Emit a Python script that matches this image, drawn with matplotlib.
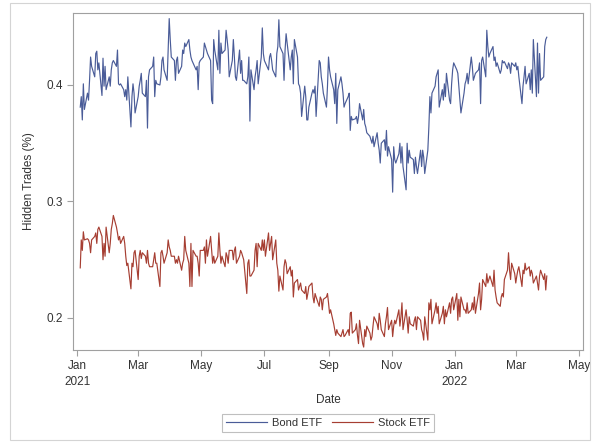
import numpy as np
import pandas as pd
import matplotlib
matplotlib.use("Agg")
import matplotlib.pyplot as plt
import matplotlib.dates as mdates
from matplotlib.patches import Rectangle

plt.rcParams['font.family'] = ['Liberation Sans', 'DejaVu Sans']

# daily share of hidden trades, one row per month (trading days)
bond = [
    0.381, 0.390, 0.370, 0.401, 0.379, 0.393, 0.387, 0.404, 0.424, 0.416, 0.407, 0.427, 0.429, 0.413, 0.419, 0.391, 0.423, 0.399, 0.416, 0.396,
    0.407, 0.399, 0.413, 0.419, 0.421, 0.416, 0.430, 0.401, 0.400, 0.401, 0.396, 0.390, 0.396, 0.387, 0.407, 0.364, 0.390, 0.401, 0.393, 0.376,
    0.390, 0.399, 0.404, 0.410, 0.393, 0.390, 0.404, 0.363, 0.407, 0.413, 0.416, 0.424, 0.390, 0.404, 0.401, 0.400, 0.407, 0.421, 0.424, 0.413, 0.404, 0.430, 0.457,
    0.439, 0.424, 0.421, 0.404, 0.421, 0.424, 0.410, 0.416, 0.430, 0.427, 0.436, 0.433, 0.439, 0.430, 0.424, 0.421, 0.419, 0.413, 0.416, 0.396, 0.419, 0.421,
    0.424, 0.436, 0.433, 0.430, 0.427, 0.421, 0.387, 0.384, 0.439, 0.430, 0.413, 0.447, 0.410, 0.436, 0.427, 0.430, 0.447, 0.439, 0.430, 0.407, 0.421,
    0.439, 0.424, 0.407, 0.404, 0.430, 0.410, 0.421, 0.404, 0.404, 0.401, 0.407, 0.424, 0.369, 0.413, 0.396, 0.407, 0.413, 0.421, 0.401, 0.424, 0.449, 0.427,
    0.421, 0.419, 0.413, 0.424, 0.427, 0.421, 0.413, 0.407, 0.427, 0.433, 0.456, 0.433, 0.427, 0.404, 0.430, 0.444, 0.436, 0.413, 0.424, 0.430, 0.401, 0.439,
    0.424, 0.401, 0.399, 0.393, 0.373, 0.399, 0.390, 0.370, 0.370, 0.381, 0.393, 0.396, 0.393, 0.399, 0.373, 0.421, 0.419, 0.407, 0.401, 0.393, 0.381, 0.399,
    0.424, 0.413, 0.407, 0.396, 0.384, 0.410, 0.367, 0.396, 0.407, 0.401, 0.393, 0.381, 0.384, 0.390, 0.393, 0.361, 0.373, 0.370, 0.371, 0.373, 0.367, 0.373,
    0.384, 0.370, 0.379, 0.367, 0.364, 0.359, 0.356, 0.353, 0.350, 0.356, 0.347, 0.359, 0.350, 0.344, 0.333, 0.350, 0.353, 0.344, 0.361, 0.339, 0.347,
    0.336, 0.308, 0.347, 0.336, 0.333, 0.341, 0.350, 0.333, 0.347, 0.330, 0.310, 0.350, 0.333, 0.344, 0.338, 0.336, 0.324, 0.338, 0.330, 0.324, 0.344, 0.330,
    0.344, 0.338, 0.324, 0.344, 0.364, 0.390, 0.376, 0.393, 0.399, 0.407, 0.410, 0.413, 0.381, 0.396, 0.387, 0.401, 0.390, 0.410, 0.387, 0.384, 0.401, 0.413, 0.419,
    0.413, 0.410, 0.399, 0.387, 0.376, 0.393, 0.401, 0.404, 0.410, 0.401, 0.424, 0.416, 0.404, 0.407, 0.410, 0.413, 0.419, 0.384, 0.421, 0.424, 0.407,
    0.447, 0.433, 0.424, 0.427, 0.433, 0.421, 0.424, 0.416, 0.419, 0.410, 0.413, 0.421, 0.419, 0.420, 0.414, 0.419, 0.417, 0.410, 0.419, 0.416,
    0.419, 0.413, 0.416, 0.407, 0.384, 0.399, 0.407, 0.416, 0.401, 0.410, 0.396, 0.413, 0.393, 0.439, 0.390, 0.436, 0.393, 0.427, 0.404, 0.407, 0.433, 0.439, 0.441,
]

stock = [
    0.243, 0.267, 0.258, 0.274, 0.267, 0.268, 0.267, 0.264, 0.256, 0.267, 0.270, 0.273, 0.264, 0.276, 0.278, 0.270, 0.250, 0.264, 0.253, 0.278,
    0.256, 0.264, 0.276, 0.281, 0.288, 0.278, 0.273, 0.267, 0.270, 0.264, 0.270, 0.264, 0.253, 0.245, 0.247, 0.225, 0.247, 0.244, 0.256, 0.258,
    0.233, 0.253, 0.258, 0.251, 0.256, 0.253, 0.247, 0.258, 0.247, 0.244, 0.244, 0.250, 0.256, 0.247, 0.247, 0.227, 0.256, 0.258, 0.253, 0.247, 0.256, 0.267, 0.261,
    0.258, 0.253, 0.253, 0.247, 0.250, 0.247, 0.253, 0.241, 0.247, 0.250, 0.270, 0.258, 0.247, 0.227, 0.264, 0.227, 0.258, 0.253, 0.253, 0.247, 0.236, 0.258,
    0.258, 0.261, 0.247, 0.267, 0.253, 0.270, 0.258, 0.247, 0.253, 0.247, 0.253, 0.273, 0.258, 0.247, 0.253, 0.244, 0.256, 0.253, 0.247, 0.258, 0.258,
    0.250, 0.258, 0.261, 0.247, 0.253, 0.258, 0.256, 0.253, 0.250, 0.221, 0.247, 0.250, 0.236, 0.236, 0.241, 0.258, 0.264, 0.244, 0.264, 0.258, 0.267, 0.258,
    0.267, 0.253, 0.273, 0.258, 0.264, 0.270, 0.250, 0.267, 0.247, 0.241, 0.223, 0.236, 0.224, 0.244, 0.250, 0.247, 0.238, 0.244, 0.236, 0.241, 0.218, 0.230,
    0.233, 0.224, 0.227, 0.230, 0.224, 0.221, 0.227, 0.216, 0.221, 0.227, 0.230, 0.218, 0.213, 0.221, 0.218, 0.210, 0.218, 0.216, 0.207, 0.216, 0.218, 0.221,
    0.213, 0.204, 0.207, 0.195, 0.190, 0.185, 0.190, 0.187, 0.184, 0.187, 0.190, 0.184, 0.185, 0.190, 0.185, 0.204, 0.205, 0.187, 0.190, 0.195, 0.185, 0.178,
    0.198, 0.178, 0.175, 0.190, 0.184, 0.193, 0.187, 0.181, 0.184, 0.193, 0.201, 0.195, 0.190, 0.204, 0.198, 0.190, 0.184, 0.195, 0.201, 0.209, 0.190,
    0.198, 0.184, 0.193, 0.198, 0.195, 0.207, 0.193, 0.201, 0.213, 0.190, 0.207, 0.198, 0.187, 0.201, 0.195, 0.193, 0.198, 0.201, 0.190, 0.201, 0.198, 0.190,
    0.187, 0.181, 0.201, 0.181, 0.213, 0.207, 0.216, 0.195, 0.207, 0.213, 0.204, 0.210, 0.195, 0.204, 0.210, 0.195, 0.207, 0.201, 0.213, 0.204, 0.216, 0.218, 0.207,
    0.221, 0.198, 0.216, 0.201, 0.218, 0.207, 0.207, 0.204, 0.213, 0.204, 0.207, 0.213, 0.207, 0.218, 0.204, 0.221, 0.230, 0.207, 0.216, 0.233, 0.227,
    0.238, 0.230, 0.233, 0.236, 0.227, 0.241, 0.224, 0.218, 0.213, 0.210, 0.218, 0.221, 0.218, 0.233, 0.241, 0.256, 0.241, 0.233, 0.247, 0.238,
    0.230, 0.236, 0.241, 0.244, 0.227, 0.241, 0.238, 0.247, 0.241, 0.244, 0.236, 0.241, 0.238, 0.230, 0.236, 0.230, 0.224, 0.236, 0.241, 0.233, 0.238, 0.224, 0.236,
]

dates = pd.bdate_range("2021-01-04", periods=len(bond))
tick_dates = pd.date_range("2021-01-01", "2022-05-01", freq="2MS")
tick_labels = ["Jan\n2021", "Mar", "May", "Jul", "Sep", "Nov", "Jan\n2022", "Mar", "May"]

fig = plt.figure(figsize=(5.92, 4.42), dpi=100)
# light frame round the whole graph
fig.patches.append(Rectangle((10 / 592, 2 / 442), 580 / 592, 437 / 442, transform=fig.transFigure,
                             fill=False, edgecolor="#d4d4d4", linewidth=0.8))

ax = fig.add_axes([73 / 592, 1 - 350 / 442, 510 / 592, 337 / 442])
ax.plot(dates, bond, color="#4a5c98", lw=0.85, label="Bond ETF")
ax.plot(dates, stock, color="#a63e32", lw=0.85, label="Stock ETF")

ax.set_xlim(pd.Timestamp("2020-12-28"), pd.Timestamp("2022-05-05"))
ax.set_ylim(0.1725, 0.4618)
ax.set_xticks(tick_dates)
ax.set_xticklabels(tick_labels, linespacing=1.45)
ax.set_yticks([0.2, 0.3, 0.4])
ax.set_yticklabels(["0.2", "0.3", "0.4"])

for s in ax.spines.values():
    s.set_color("#a0a0a0")
    s.set_linewidth(0.8)
ax.tick_params(colors="#a0a0a0", labelcolor="#333333", labelsize=8.5, length=4, width=0.8)

ax.set_xlabel("Date", fontsize=8.5, color="#333333", labelpad=4)
ax.set_ylabel("Hidden Trades (%)", fontsize=8.5, color="#333333", labelpad=8)

leg = ax.legend(loc="upper center", bbox_to_anchor=(0.5, -0.19), ncol=2, fontsize=8,
                frameon=True, fancybox=False, handlelength=3.7, columnspacing=0.8,
                handletextpad=0.5, borderpad=0.35, borderaxespad=0)
leg.get_frame().set_edgecolor("#b0b0b0")
leg.get_frame().set_linewidth(0.8)
for t in leg.get_texts():
    t.set_color("#333333")

fig.savefig("out.png", dpi=100)
